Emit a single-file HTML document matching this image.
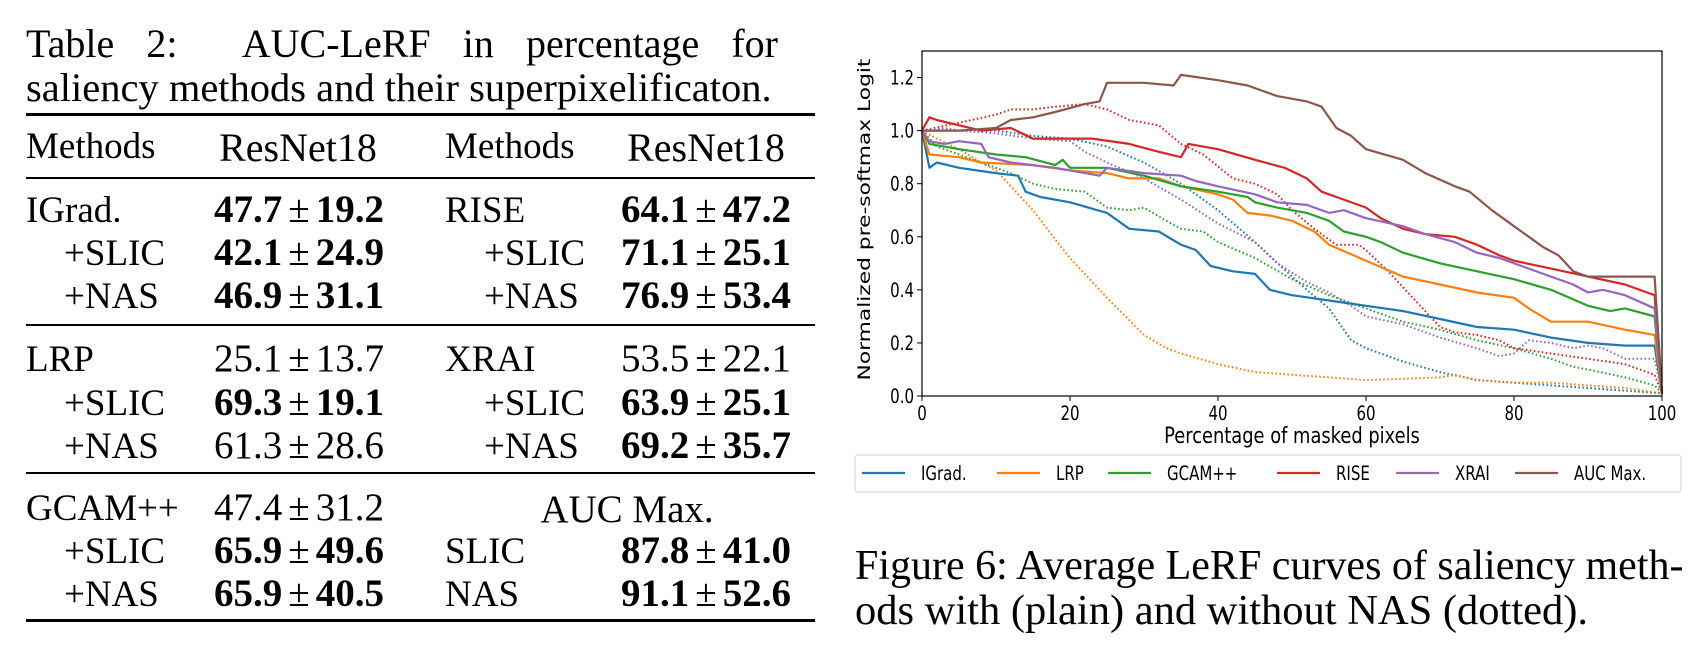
<!DOCTYPE html>
<html><head><meta charset="utf-8"><style>
body{margin:0;width:1706px;height:654px;background:#fff;position:relative;overflow:hidden;font-family:"Liberation Serif",serif;color:#000}
.t{position:absolute;font-size:37px;white-space:nowrap;line-height:1}
.c{transform:translateX(-50%)}
.b{font-weight:bold}
.pm{font-weight:normal;display:inline-block;margin:0 6px}
.v{font-size:39px}
.rule{position:absolute;left:26px;width:789px;background:#000}
.cap{position:absolute;font-size:40px;text-align:justify;text-align-last:justify;white-space:nowrap;line-height:1}
</style></head><body>
<div class="cap" style="left:26px;top:24px;width:752px">Table 2: &nbsp;AUC-LeRF in percentage for</div>
<div class="t" style="left:26px;top:68px;font-size:40.5px">saliency methods and their superpixelificaton.</div>
<div class="rule" style="top:113px;height:3px"></div>
<div class="t" style="left:26px;top:128px">Methods</div>
<div class="t c" style="left:298px;top:128px;font-size:40px">ResNet18</div>
<div class="t" style="left:445px;top:128px">Methods</div>
<div class="t c" style="left:706px;top:128px;font-size:40px">ResNet18</div>
<div class="rule" style="top:177px;height:2px"></div>

<div class="t" style="left:26px;top:192px">IGrad.</div>
<div class="t c b v" style="left:299px;top:190px">47.7<span class="pm">±</span>19.2</div>
<div class="t" style="left:64px;top:235px">+SLIC</div>
<div class="t c b v" style="left:299px;top:233px">42.1<span class="pm">±</span>24.9</div>
<div class="t" style="left:64px;top:278px">+NAS</div>
<div class="t c b v" style="left:299px;top:276px">46.9<span class="pm">±</span>31.1</div>
<div class="t" style="left:445px;top:192px">RISE</div>
<div class="t c b v" style="left:706px;top:190px">64.1<span class="pm">±</span>47.2</div>
<div class="t" style="left:484px;top:235px">+SLIC</div>
<div class="t c b v" style="left:706px;top:233px">71.1<span class="pm">±</span>25.1</div>
<div class="t" style="left:484px;top:278px">+NAS</div>
<div class="t c b v" style="left:706px;top:276px">76.9<span class="pm">±</span>53.4</div>
<div class="rule" style="top:324px;height:2px"></div>

<div class="t" style="left:26px;top:341px">LRP</div>
<div class="t c v" style="left:299px;top:339px">25.1<span class="pm">±</span>13.7</div>
<div class="t" style="left:64px;top:385px">+SLIC</div>
<div class="t c b v" style="left:299px;top:383px">69.3<span class="pm">±</span>19.1</div>
<div class="t" style="left:64px;top:428px">+NAS</div>
<div class="t c v" style="left:299px;top:426px">61.3<span class="pm">±</span>28.6</div>
<div class="t" style="left:445px;top:341px">XRAI</div>
<div class="t c v" style="left:706px;top:339px">53.5<span class="pm">±</span>22.1</div>
<div class="t" style="left:484px;top:385px">+SLIC</div>
<div class="t c b v" style="left:706px;top:383px">63.9<span class="pm">±</span>25.1</div>
<div class="t" style="left:484px;top:428px">+NAS</div>
<div class="t c b v" style="left:706px;top:426px">69.2<span class="pm">±</span>35.7</div>
<div class="rule" style="top:472px;height:2px"></div>

<div class="t" style="left:26px;top:490px">GCAM++</div>
<div class="t c v" style="left:299px;top:488px">47.4<span class="pm">±</span>31.2</div>
<div class="t" style="left:64px;top:533px">+SLIC</div>
<div class="t c b v" style="left:299px;top:531px">65.9<span class="pm">±</span>49.6</div>
<div class="t" style="left:64px;top:576px">+NAS</div>
<div class="t c b v" style="left:299px;top:574px">65.9<span class="pm">±</span>40.5</div>
<div class="t c" style="left:627px;top:490px;font-size:39px">AUC Max.</div>
<div class="t" style="left:445px;top:533px">SLIC</div>
<div class="t c b v" style="left:706px;top:531px">87.8<span class="pm">±</span>41.0</div>
<div class="t" style="left:445px;top:576px">NAS</div>
<div class="t c b v" style="left:706px;top:574px">91.1<span class="pm">±</span>52.6</div>
<div class="rule" style="top:619px;height:3px"></div>

<svg id="chart" style="position:absolute;left:0;top:0" width="1706" height="654" font-family="DejaVu Sans, sans-serif"></svg>

<div class="cap" style="left:855px;top:545px;width:820px;font-size:42px">Figure 6: Average LeRF curves of saliency meth-</div>
<div class="t" style="left:855px;top:590px;font-size:42.5px">ods with (plain) and without NAS (dotted).</div>

<script>
const xTicks=[0,20,40,60,80,100];
const yTicks=[0.0,0.2,0.4,0.6,0.8,1.0,1.2];
const seriesNames=["IGrad.","LRP","GCAM++","RISE","XRAI","AUC Max."];
const colors=["#1f77b4","#ff7f0e","#2ca02c","#d62728","#9467bd","#8c564b"];
const igradX=[0,1,2,5,10,13,14,16,20,25,28,32,35,37,39,42,45,47,50,55,60,65,70,75,80,85,90,95,99,100];
const igradY=[1.0,0.86,0.88,0.86,0.84,0.83,0.77,0.75,0.73,0.69,0.63,0.62,0.57,0.55,0.49,0.47,0.46,0.40,0.38,0.36,0.34,0.32,0.29,0.26,0.25,0.22,0.20,0.19,0.19,0.01];
const lrpX=[0,1,5,8,15,20,25,28,32,35,40,42,44,47,50,53,55,60,65,70,75,80,82,85,90,95,99,100];
const lrpY=[1.0,0.91,0.90,0.88,0.87,0.85,0.84,0.82,0.82,0.79,0.76,0.74,0.69,0.68,0.66,0.62,0.57,0.51,0.45,0.42,0.39,0.37,0.33,0.28,0.28,0.25,0.23,0.01];
const gcamX=[0,1,5,10,14,18,19,20,25,30,35,40,44,45,48,52,55,57,60,62,65,70,75,80,85,90,93,95,99,100];
const gcamY=[1.0,0.95,0.93,0.91,0.90,0.87,0.89,0.86,0.86,0.83,0.79,0.77,0.75,0.73,0.71,0.69,0.66,0.62,0.60,0.58,0.54,0.50,0.47,0.44,0.40,0.34,0.32,0.33,0.30,0.01];
const riseX=[0,1,2,5,8,12,15,20,23,28,32,35,36,40,45,49,52,54,57,60,62,65,68,72,75,78,80,85,90,95,99,100];
const riseY=[1.0,1.05,1.04,1.02,1.0,1.01,0.97,0.97,0.97,0.95,0.92,0.90,0.95,0.93,0.89,0.86,0.82,0.77,0.74,0.71,0.67,0.63,0.61,0.60,0.57,0.53,0.51,0.48,0.45,0.42,0.38,0.01];
const xraiX=[0,1,3,5,8,9,12,18,22,24,25,30,35,37,40,45,48,52,55,57,60,65,68,72,75,78,82,85,88,90,92,95,99,100];
const xraiY=[1.0,0.96,0.95,0.96,0.95,0.90,0.88,0.86,0.84,0.83,0.86,0.84,0.83,0.81,0.79,0.76,0.73,0.72,0.69,0.70,0.67,0.64,0.61,0.58,0.54,0.52,0.48,0.45,0.42,0.39,0.40,0.38,0.33,0.01];
const aucX=[0,5,10,12,15,18,22,24,25,27,30,34,35,40,44,48,52,54,56,58,60,65,68,72,74,77,80,82,84,86,88,90,99,100];
const aucY=[1.0,1.0,1.01,1.04,1.05,1.07,1.10,1.11,1.18,1.18,1.18,1.17,1.21,1.19,1.17,1.13,1.11,1.09,1.01,0.98,0.93,0.89,0.84,0.79,0.77,0.70,0.64,0.60,0.56,0.53,0.47,0.45,0.45,0.01];
const igradDX=[0,5,10,15,20,25,30,35,40,45,50,52,55,58,60,65,70,75,80,85,90,95,100];
const igradDY=[1.0,1.0,1.0,0.98,0.97,0.94,0.88,0.80,0.70,0.58,0.45,0.40,0.33,0.21,0.18,0.13,0.09,0.06,0.05,0.04,0.03,0.02,0.01];
const lrpDX=[0,2,5,8,10,12,15,18,20,25,30,33,35,40,45,50,55,60,65,70,72,75,80,85,90,95,100];
const lrpDY=[1.0,0.97,0.93,0.88,0.85,0.79,0.70,0.59,0.52,0.37,0.23,0.18,0.16,0.12,0.09,0.08,0.07,0.06,0.065,0.07,0.08,0.06,0.05,0.05,0.04,0.03,0.01];
const gcamDX=[0,2,5,8,10,12,15,18,22,25,28,30,33,35,38,40,45,50,55,60,65,70,75,80,85,88,90,95,99,100];
const gcamDY=[1.0,0.94,0.91,0.88,0.86,0.84,0.80,0.78,0.77,0.71,0.70,0.71,0.66,0.63,0.62,0.58,0.52,0.44,0.38,0.33,0.28,0.25,0.21,0.18,0.14,0.11,0.10,0.07,0.04,0.01];
const riseDX=[0,5,10,12,15,18,22,25,28,32,35,38,42,45,48,50,53,56,59,60,63,66,68,70,72,75,78,80,85,90,95,99,100];
const riseDY=[1.0,1.03,1.06,1.08,1.08,1.09,1.10,1.08,1.04,1.02,0.95,0.91,0.82,0.80,0.76,0.70,0.63,0.57,0.57,0.55,0.47,0.38,0.32,0.26,0.24,0.23,0.21,0.18,0.16,0.14,0.12,0.08,0.01];
const xraiDX=[0,3,5,10,15,20,22,25,30,35,40,45,48,52,55,58,60,65,70,75,78,80,82,85,88,90,92,95,99,100];
const xraiDY=[1.0,1.01,1.0,0.99,0.97,0.96,0.92,0.88,0.82,0.74,0.65,0.58,0.50,0.43,0.39,0.34,0.30,0.27,0.22,0.18,0.15,0.16,0.21,0.20,0.18,0.19,0.18,0.14,0.14,0.01];

const svg=document.getElementById('chart');
const NS='http://www.w3.org/2000/svg';
const L=922,R=1662,T=51,B=396,YMAX=1.3;
function sx(v){return L+(R-L)*v/100;}
function sy(v){return B-(B-T)*v/YMAX;}
function mk(tag,attrs,parent){const e=document.createElementNS(NS,tag);for(const k in attrs)e.setAttribute(k,attrs[k]);(parent||svg).appendChild(e);return e;}

const plot=mk('g',{});


function line(xs,ys,color,dotted,name){
  const d=xs.map((x,i)=>(i?'L':'M')+sx(x).toFixed(1)+' '+sy(ys[i]).toFixed(1)).join(' ');
  const p=mk('path',{d:d,fill:'none',stroke:color,'stroke-width':dotted?2:2.2,'stroke-linejoin':'round'},plot);
  if(dotted)p.setAttribute('stroke-dasharray','1.6,2.4');
  
  
}
const dotted=[[igradDX,igradDY],[lrpDX,lrpDY],[gcamDX,gcamDY],[riseDX,riseDY],[xraiDX,xraiDY]];
const solid=[[igradX,igradY],[lrpX,lrpY],[gcamX,gcamY],[riseX,riseY],[xraiX,xraiY],[aucX,aucY]];
dotted.forEach((s,i)=>line(s[0],s[1],colors[i],true,'dotted-line-'+i));
solid.forEach((s,i)=>line(s[0],s[1],colors[i],false,'solid-line-'+i));

const frame=mk('rect',{x:L,y:T,width:R-L,height:B-T,fill:'none',stroke:'#000','stroke-width':1.2});



xTicks.forEach(v=>{
  const tk=mk('line',{x1:sx(v),x2:sx(v),y1:B,y2:B+5,stroke:'#000','stroke-width':1});
  
  
  const t=mk('text',{x:0,y:0,'text-anchor':'middle','font-size':15,transform:'translate('+sx(v)+','+(B+24)+') scale(1,1.3)'});
  t.textContent=String(v);
  
  
});
yTicks.forEach(v=>{
  const tk=mk('line',{x1:L-5,x2:L,y1:sy(v),y2:sy(v),stroke:'#000','stroke-width':1});
  
  
  const t=mk('text',{x:0,y:0,'text-anchor':'end','font-size':15,transform:'translate('+(L-8)+','+(sy(v)+7)+') scale(1,1.3)'});
  t.textContent=v.toFixed(1);
  
  
});
const xl=mk('text',{x:0,y:0,'text-anchor':'middle','font-size':17,transform:'translate('+((L+R)/2)+',443) scale(1.05,1.3)'});
xl.textContent='Percentage of masked pixels';


const yl=mk('text',{x:0,y:0,'text-anchor':'middle','font-size':17,transform:'translate(870,'+((T+B)/2-4)+') rotate(-90) scale(1.28,1)'});
yl.textContent='Normalized pre-softmax Logit';



const lg=mk('g',{});


mk('rect',{x:855,y:455,width:826,height:37,rx:3,fill:'#fff',stroke:'#d0d0d0','stroke-width':1},lg);
const legLineX=[862,997,1108,1277,1396,1515];
seriesNames.forEach((n,i)=>{
  const ln=mk('line',{x1:legLineX[i],x2:legLineX[i]+43,y1:473,y2:473,stroke:colors[i],'stroke-width':2.2},lg);
  
  
  const t=mk('text',{x:0,y:0,'font-size':15,transform:'translate('+(legLineX[i]+59)+',480) scale(1,1.3)'},lg);
  t.textContent=n;
  
  
});
</script>
</body></html>
